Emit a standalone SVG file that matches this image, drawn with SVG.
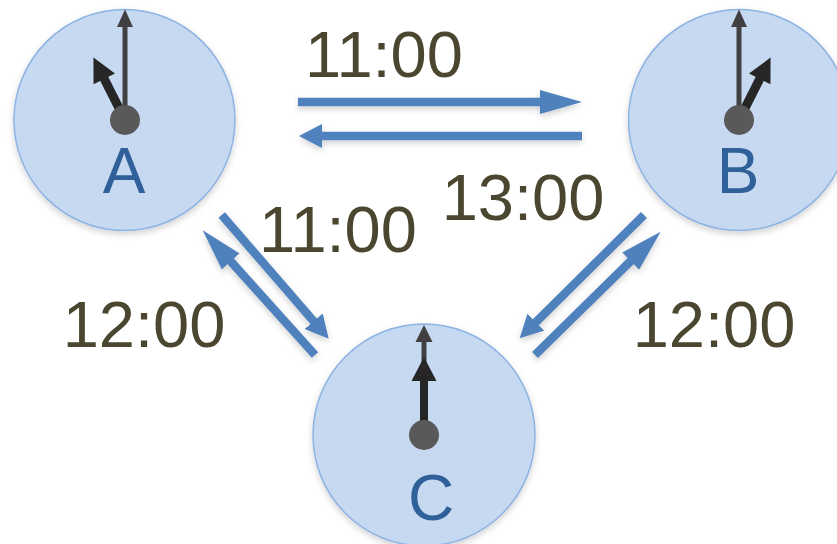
<svg xmlns="http://www.w3.org/2000/svg" width="837" height="544" viewBox="0 0 837 544">
<style>
  .face { fill: #C6D9F0; stroke: #8DB3E2; stroke-width: 1.5; filter: url(#sh); }
  .min { fill: #404040; }
  .hour { fill: #262626; }
  .dot { fill: #595959; }
  .lbl { font-family: "Liberation Sans", Arial, sans-serif; font-size: 64px; fill: #30609A; text-anchor: middle; }
  .time { font-family: "Liberation Sans", Arial, sans-serif; font-size: 65px; fill: #4B4630; text-anchor: middle; }
  .arr { stroke: #4F81BD; stroke-width: 8.5; fill: none; filter: url(#sh); }
</style>
<defs>
  <filter id="sh" filterUnits="userSpaceOnUse" x="0" y="0" width="837" height="544">
    <feDropShadow dx="0" dy="3" stdDeviation="3" flood-color="#000" flood-opacity="0.18"/>
  </filter>
  <marker id="hl" markerUnits="userSpaceOnUse" markerWidth="44" markerHeight="26" refX="1" refY="12" orient="auto" viewBox="0 0 44 24">
    <path d="M0,0 L42,12 L0,24 Z" fill="#4F81BD"/>
  </marker>
  <marker id="hs" markerUnits="userSpaceOnUse" markerWidth="26" markerHeight="26" refX="1" refY="12" orient="auto" viewBox="0 0 26 24">
    <path d="M0,0 L23,12 L0,24 Z" fill="#4F81BD"/>
  </marker>
</defs>

<g id="clockA">
  <circle class="face" cx="124.5" cy="120" r="110.5"/>
  <rect class="min" x="122.5" y="26" width="5" height="94"/>
  <path class="min" d="M125,9.5 L117,27 L133,27 Z"/>
  <g transform="translate(125,120) rotate(-26.8)">
    <rect class="hour" x="-4.5" y="-47" width="9" height="47"/>
    <path class="hour" d="M0,-70 L-12,-46 L12,-46 Z"/>
  </g>
  <circle class="dot" cx="125" cy="120" r="15"/>
  <text class="lbl" x="124" y="193">A</text>
</g>

<g id="clockB">
  <circle class="face" cx="739" cy="120" r="110.5"/>
  <rect class="min" x="736.5" y="26" width="5" height="94"/>
  <path class="min" d="M739,9.5 L731,27 L747,27 Z"/>
  <g transform="translate(739,120) rotate(26.8)">
    <rect class="hour" x="-4.5" y="-47" width="9" height="47"/>
    <path class="hour" d="M0,-70 L-12,-46 L12,-46 Z"/>
  </g>
  <circle class="dot" cx="739" cy="120" r="15"/>
  <text class="lbl" x="738" y="193">B</text>
</g>

<g id="clockC">
  <circle class="face" cx="424" cy="435" r="111"/>
  <rect class="min" x="421.5" y="341" width="5" height="94"/>
  <path class="min" d="M424,325 L415.5,342 L432.5,342 Z"/>
  <rect class="hour" x="420" y="380" width="8" height="55"/>
  <path class="hour" d="M424,357 L411.5,381 L436.5,381 Z"/>
  <circle class="dot" cx="424" cy="435" r="15"/>
  <text class="lbl" x="431" y="520">C</text>
</g>

<g id="connectors">
  <line class="arr" x1="298" y1="102" x2="541" y2="102" marker-end="url(#hl)"/>
  <line class="arr" x1="582" y1="136" x2="321" y2="136" marker-end="url(#hs)"/>
  <line class="arr" x1="221.7" y1="215" x2="314.3" y2="322" marker-end="url(#hs)"/>
  <line class="arr" x1="315" y1="355" x2="230.1" y2="260.7" marker-end="url(#hl)"/>
  <line class="arr" x1="644" y1="215" x2="535.3" y2="322.8" marker-end="url(#hs)"/>
  <line class="arr" x1="535" y1="355" x2="631.4" y2="260.4" marker-end="url(#hl)"/>
</g>

<g id="labels">
  <text class="time" x="384" y="77">11:00</text>
  <text class="time" x="523" y="220">13:00</text>
  <text class="time" x="338" y="252">11:00</text>
  <text class="time" x="144" y="347">12:00</text>
  <text class="time" x="714" y="347">12:00</text>
</g>
</svg>
